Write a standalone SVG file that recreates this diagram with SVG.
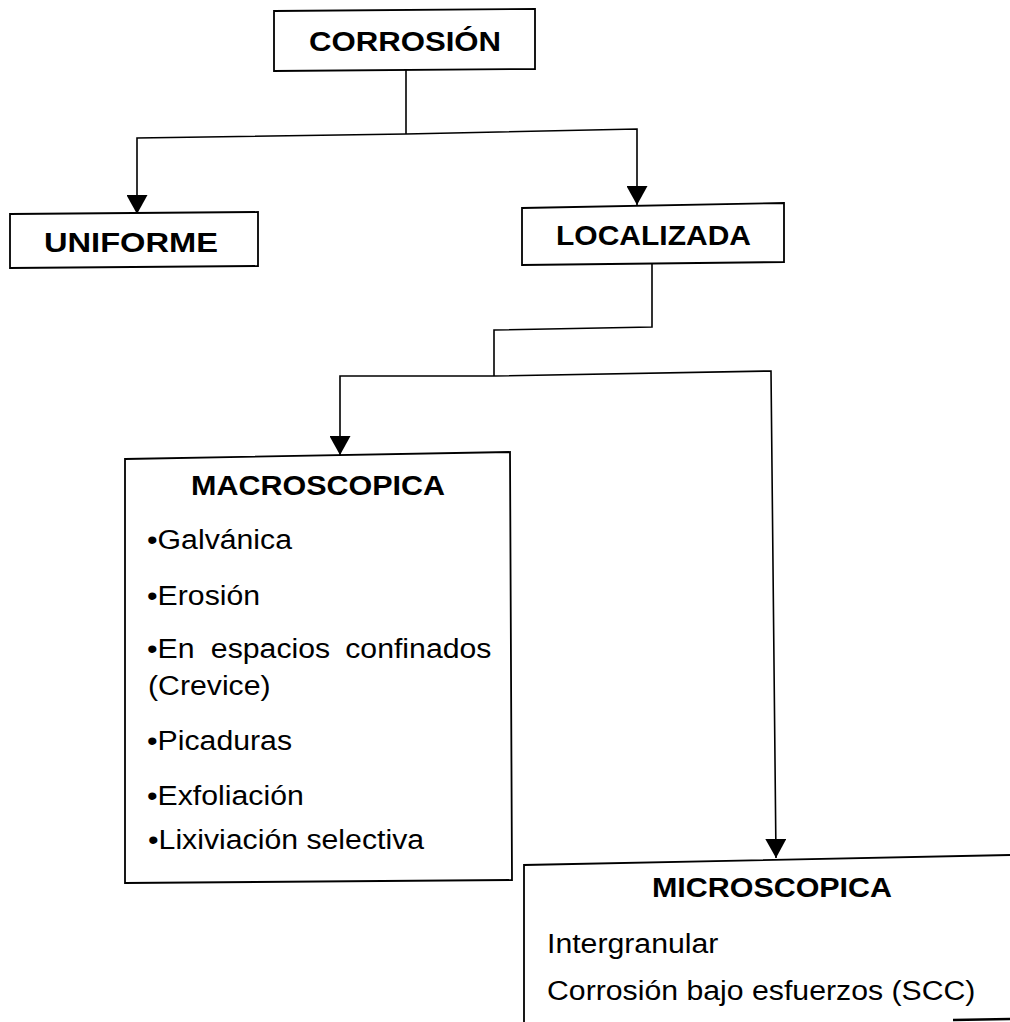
<svg xmlns="http://www.w3.org/2000/svg" width="1010" height="1022" viewBox="0 0 1010 1022">
<defs>
<style>
.box{fill:#fff;stroke:#000;stroke-width:1.8}
.ln{fill:none;stroke:#000;stroke-width:1.6}
.t{font-family:"Liberation Sans",Arial,sans-serif;font-weight:bold;font-size:27px;fill:#000}
.i{font-family:"Liberation Sans",Arial,sans-serif;font-size:27px;fill:#000}
</style>
<marker id="ah" viewBox="0 0 19 21" refX="19" refY="10.5" markerWidth="19" markerHeight="21" markerUnits="userSpaceOnUse" orient="auto">
<path d="M0,0 L19,10.5 L0,21 z" fill="#000"/>
</marker>
</defs>
<rect width="1010" height="1022" fill="#fff"/>
<g id="connectors">
<path class="ln" d="M406,70 L406,134"/>
<path class="ln" d="M406,134 L137,138 L137,214" marker-end="url(#ah)"/>
<path class="ln" d="M406,134 L637,129 L637,205" marker-end="url(#ah)"/>
<path class="ln" d="M652,264 L652,327 L494,330 L494,376"/>
<path class="ln" d="M494,376 L340,376 L340,455" marker-end="url(#ah)"/>
<path class="ln" d="M494,376 L771,371 L776,858" marker-end="url(#ah)"/>
</g>
<g id="corrosion">
<path class="box" d="M274,11 L535,9 L535,69 L274,71 z"/>
<text class="t" x="309" y="51" textLength="192" lengthAdjust="spacingAndGlyphs">CORROSIÓN</text>
</g>
<g id="uniforme">
<path class="box" d="M10,214 L258,212 L258,266 L10,268 z"/>
<text class="t" x="44" y="252" textLength="174" lengthAdjust="spacingAndGlyphs">UNIFORME</text>
</g>
<g id="localizada">
<path class="box" d="M522,208 L784,203 L784,262 L522,265 z"/>
<text class="t" x="556" y="245" textLength="195" lengthAdjust="spacingAndGlyphs">LOCALIZADA</text>
</g>
<g id="macroscopica">
<path class="box" d="M125,459 L510,452 L512,880 L125,883 z"/>
<text class="t" x="191" y="495" textLength="254" lengthAdjust="spacingAndGlyphs">MACROSCOPICA</text>
<text class="i" transform="translate(147,549) scale(1.12,1)">•Galvánica</text>
<text class="i" transform="translate(147,605) scale(1.12,1)">•Erosión</text>
<text class="i" transform="translate(147,658) scale(1.12,1)"><tspan x="0">•En</tspan><tspan x="57">espacios</tspan><tspan x="177">confinados</tspan></text>
<text class="i" transform="translate(148,695) scale(1.12,1)">(Crevice)</text>
<text class="i" transform="translate(147,750) scale(1.12,1)">•Picaduras</text>
<text class="i" transform="translate(147,805) scale(1.12,1)">•Exfoliación</text>
<text class="i" transform="translate(148,849) scale(1.12,1)">•Lixiviación selectiva</text>
</g>
<g id="microscopica">
<path class="box" d="M524,1022 L524,865 L1010,855"/>
<text class="t" x="652" y="897" textLength="240" lengthAdjust="spacingAndGlyphs">MICROSCOPICA</text>
<text class="i" transform="translate(547,953) scale(1.12,1)">Intergranular</text>
<text class="i" transform="translate(547,1000) scale(1.12,1)">Corrosión bajo esfuerzos (SCC)</text>
</g>
<path d="M953,1020 L1010,1019" stroke="#000" stroke-width="2.5" fill="none"/>
</svg>
